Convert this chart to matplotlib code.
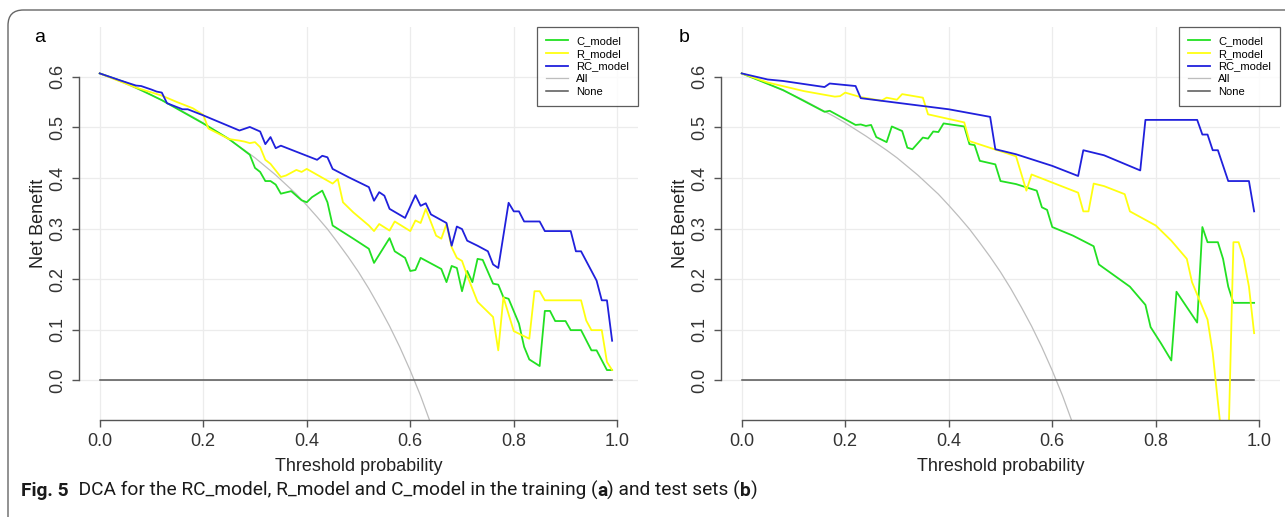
import matplotlib
matplotlib.use('Agg')
import matplotlib.pyplot as plt
from matplotlib import font_manager
from matplotlib.patches import FancyBboxPatch

# ---------------- data ----------------
# training set (panel a)
train_t_c = [0, .05, .12, .20, .25, .29, .30, .31, .32, .33, .34, .35, .37, .39, .40, .41, .43, .44, .45,
             .49, .52, .53, .56, .57, .59, .60, .61, .62, .66, .67, .68, .69, .70, .71, .72, .73, .74, .76,
             .77, .78, .79, .81, .82, .83, .85, .86, .87, .88, .90, .91, .93, .95, .96, .98, .99]
train_nb_c = [.607, .589, .554, .508, .477, .446, .420, .412, .394, .394, .387, .369, .374, .356, .352, .362,
              .375, .352, .306, .280, .260, .232, .281, .255, .242, .216, .218, .242, .220, .194, .226, .222,
              .176, .216, .194, .240, .238, .191, .189, .164, .161, .112, .066, .041, .028, .137, .137, .117,
              .117, .099, .099, .059, .059, .020, .020]

train_t_r = [0, .07, .12, .15, .18, .20, .21, .25, .27, .28, .29, .30, .31, .32, .33, .35, .36, .38, .39,
             .40, .45, .46, .47, .49, .52, .53, .54, .56, .57, .60, .61, .62, .63, .65, .66, .67, .68, .69,
             .70, .71, .73, .76, .77, .78, .80, .83, .84, .85, .86, .93, .94, .95, .97, .98, .99]
train_nb_r = [.607, .579, .563, .550, .538, .525, .498, .477, .474, .472, .469, .471, .461, .436, .428, .402,
              .405, .416, .412, .418, .389, .398, .352, .332, .306, .295, .309, .296, .314, .295, .316, .311,
              .339, .286, .280, .309, .263, .242, .236, .207, .155, .125, .059, .164, .097, .082, .176, .176,
              .158, .158, .118, .099, .099, .036, .020]

train_t_rc = [0, .04, .07, .08, .10, .11, .12, .13, .16, .17, .20, .27, .29, .31, .32, .33, .34, .35, .42,
              .43, .44, .45, .48, .52, .53, .54, .55, .56, .59, .61, .62, .63, .64, .67, .68, .69, .70, .71,
              .73, .75, .76, .77, .79, .80, .81, .82, .85, .86, .91, .92, .93, .96, .97, .98, .99]
train_nb_rc = [.607, .593, .583, .582, .575, .571, .569, .548, .536, .536, .524, .494, .501, .492, .467, .481,
               .459, .464, .436, .444, .441, .418, .402, .382, .355, .372, .365, .339, .321, .366, .345, .350,
               .328, .311, .266, .304, .299, .276, .266, .255, .229, .222, .351, .334, .334, .314, .314, .295,
               .295, .255, .255, .197, .158, .158, .078]

# test set (panel b)
test_t_c = [0, .08, .16, .17, .22, .23, .24, .25, .26, .28, .29, .31, .32, .33, .35, .36, .37, .38, .39,
            .43, .44, .45, .46, .49, .50, .53, .57, .58, .59, .60, .64, .68, .69, .75, .78, .79, .81, .83,
            .84, .88, .89, .90, .92, .93, .94, .95, .99]
test_nb_c = [.607, .574, .531, .533, .505, .506, .503, .505, .481, .471, .502, .493, .460, .457, .480, .478,
             .492, .491, .508, .502, .467, .465, .434, .427, .394, .388, .375, .342, .337, .303, .286, .265,
             .229, .185, .149, .105, .073, .039, .175, .114, .303, .273, .273, .240, .185, .153, .153]

test_t_r = [0, .05, .12, .18, .19, .20, .23, .27, .28, .30, .31, .35, .36, .43, .44, .53, .55, .56, .65,
            .66, .67, .68, .70, .74, .75, .80, .83, .86, .87, .90, .91, .93, .94, .95, .96, .97, .98, .99]
test_nb_r = [.607, .589, .572, .561, .562, .569, .560, .553, .559, .555, .566, .559, .526, .510, .473, .443,
             .375, .407, .371, .334, .334, .389, .384, .368, .334, .306, .276, .240, .194, .120, .054, -.140,
             -.140, .273, .273, .240, .185, .093]

test_t_rc = [0, .05, .08, .16, .17, .22, .23, .40, .48, .49, .53, .60, .65, .66, .70, .77, .78, .88, .89,
             .90, .91, .92, .94, .98, .99]
test_nb_rc = [.607, .595, .592, .580, .587, .582, .558, .536, .521, .457, .447, .424, .404, .455, .445, .415,
              .515, .515, .486, .486, .455, .455, .394, .394, .334]

# treat-all curve (same prevalence in both sets)
all_t = [0, .02, .04, .06, .08, .10, .12, .14, .16, .18, .20, .22, .24, .26, .28, .30, .32,
         .34, .36, .38, .40, .42, .44, .46, .48, .50, .52, .54, .56, .58, .60, .62, .64]
all_nb = [.607, .599, .591, .582, .573, .564, .554, .543, .532, .521, .509, .496, .483, .469, .455, .440,
          .423, .406, .387, .368, .346, .323, .299, .272, .244, .214, .181, .145, .107, .065, .019, -.031,
          -.087]

none_t = [0, .99]
none_nb = [0, 0]

x_ticks = [0.0, 0.2, 0.4, 0.6, 0.8, 1.0]
y_ticks = [0.0, 0.1, 0.2, 0.3, 0.4, 0.5, 0.6]

# ---------------- style ----------------
names = {f.name for f in font_manager.fontManager.ttflist}
CAP_FONT = 'Liberation Sans Narrow' if 'Liberation Sans Narrow' in names else 'Roboto'
plt.rcParams['font.family'] = ['Liberation Sans', 'DejaVu Sans']

GREEN = '#22e022'
YELLOW = '#ffff10'
BLUE = '#2020dc'
GRAY = '#bdbdbd'
DARK = '#555555'

W, H = 1285, 517
fig = plt.figure(figsize=(W / 100, H / 100), dpi=100)

# journal frame with rounded corner
frame = FancyBboxPatch((8 / W, -0.2), 1.2, 1 - 10 / H + 0.2, boxstyle='round,pad=0,rounding_size=0.012',
                       transform=fig.transFigure, facecolor='none', edgecolor='#666666', lw=1.0,
                       mutation_aspect=W / H)
fig.patches.append(frame)


def draw_panel(ax, c, r, rc):
    ha, = ax.plot(all_t, all_nb, color=GRAY, lw=0.9)
    hn, = ax.plot(none_t, none_nb, color=DARK, lw=1.1)
    hc, = ax.plot(c[0], c[1], color=GREEN, lw=1.3)
    hr, = ax.plot(r[0], r[1], color=YELLOW, lw=1.3)
    hrc, = ax.plot(rc[0], rc[1], color=BLUE, lw=1.3)

    ax.set_xlim(-0.04, 1.04)
    ax.set_ylim(-0.0788, 0.6988)
    ax.set_xticks(x_ticks)
    ax.set_yticks(y_ticks)
    ax.set_xticklabels(['%.1f' % v for v in x_ticks])
    ax.set_yticklabels(['%.1f' % v for v in y_ticks], rotation=90, va='center')
    ax.grid(True, color='#ececec', lw=0.9)
    ax.set_axisbelow(True)

    for s in ('top', 'right'):
        ax.spines[s].set_visible(False)
    ax.spines['bottom'].set_bounds(0, 1)
    ax.spines['left'].set_bounds(0, 0.6)
    for s in ('bottom', 'left'):
        ax.spines[s].set_color(DARK)
        ax.spines[s].set_linewidth(1.0)
    ax.tick_params(colors=DARK, length=5, width=1.0, labelsize=13, labelcolor='#333333', pad=4)

    ax.set_xlabel('Threshold probability', fontsize=13, color='#222222', labelpad=6)
    ax.set_ylabel('Net Benefit', fontsize=13, color='#222222', labelpad=2)

    leg = ax.legend([hc, hr, hrc, ha, hn], ['C_model', 'R_model', 'RC_model', 'All', 'None'],
                    loc='upper right', fontsize=8, frameon=True, fancybox=False, borderaxespad=0,
                    handlelength=2.0, handletextpad=0.7, labelspacing=0.25, borderpad=0.8)
    leg.get_frame().set_edgecolor('#333333')
    leg.get_frame().set_linewidth(0.9)


ax1 = fig.add_axes([79 / W, 1 - 420 / H, 559 / W, 393 / H])
draw_panel(ax1, (train_t_c, train_nb_c), (train_t_r, train_nb_r), (train_t_rc, train_nb_rc))
ax2 = fig.add_axes([721 / W, 1 - 420 / H, 559 / W, 393 / H])
draw_panel(ax2, (test_t_c, test_nb_c), (test_t_r, test_nb_r), (test_t_rc, test_nb_rc))

fig.text(40 / W, 1 - 37 / H, 'a', fontsize=14, ha='center', va='center')
fig.text(684 / W, 1 - 37 / H, 'b', fontsize=14, ha='center', va='center')

# caption, pieces chained so the bold parts sit inline
pieces = [('Fig. 5', 'bold'), ('  DCA for the RC_model, R_model and C_model in the training (', 'normal'),
          ('a', 'bold'), (') and test sets (', 'normal'), ('b', 'bold'), (')', 'normal')]
prev = fig.text(21 / W, 1 - 500 / H, pieces[0][0], fontsize=13.8, fontweight=pieces[0][1],
                family=CAP_FONT, color='#1a1a1a', va='bottom', ha='left')
for txt, wt in pieces[1:]:
    prev = ax2.annotate(txt, xy=(1, 0), xycoords=prev, fontsize=13.8, fontweight=wt, family=CAP_FONT,
                        color='#1a1a1a', va='bottom', ha='left', annotation_clip=False)

fig.savefig('out.png', dpi=100)
